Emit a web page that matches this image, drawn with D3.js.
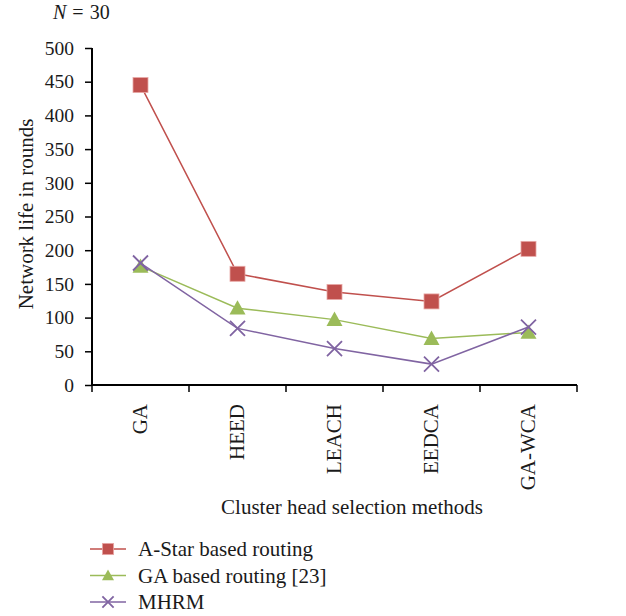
<!DOCTYPE html>
<html>
<head>
<meta charset="utf-8">
<script src="https://cdn.jsdelivr.net/npm/d3@7/dist/d3.min.js"></script>
<style>
  html, body { margin: 0; padding: 0; background: #fff; }
  svg { display: block; font-family: "Liberation Serif", "DejaVu Serif", serif; }
</style>
</head>
<body>
<svg id="chart" width="626" height="616"></svg>
<script>
const categories = ["GA", "HEED", "LEACH", "EEDCA", "GA-WCA"];
const aStar = [445, 165, 138, 124, 202];
const gaRouting = [176, 114, 97, 69, 78];
const mhrm = [181, 84, 54, 31, 86];
const yTicks = [0, 50, 100, 150, 200, 250, 300, 350, 400, 450, 500];

const series = [
  { name: "A-Star based routing", values: aStar, color: "#C0504D", symbol: "square" },
  { name: "GA based routing [23]", values: gaRouting, color: "#9BBB59", symbol: "triangle" },
  { name: "MHRM", values: mhrm, color: "#8064A2", symbol: "cross" }
];

const svg = d3.select("#chart");
const plotLeft = 92, plotRight = 577, plotTop = 48, plotBottom = 385;
const textColor = "#1a1a1a";

const x = d3.scaleBand().domain(categories).range([plotLeft, plotRight]);
const y = d3.scaleLinear().domain([0, 500]).range([plotBottom, plotTop]);

// y axis
const yAxis = svg.append("g").attr("transform", `translate(${plotLeft},0)`)
  .call(d3.axisLeft(y).tickValues(yTicks).tickSize(7).tickPadding(11));
yAxis.select(".domain").attr("stroke", "#000").attr("stroke-width", 2).attr("d", `M0,${plotTop}V${plotBottom + 1}`);
yAxis.selectAll(".tick line").attr("stroke", "#000").attr("stroke-width", 1.5);
yAxis.selectAll(".tick text").attr("font-size", 19.5).attr("fill", textColor)
  .attr("font-family", "Liberation Serif, serif");

// x axis with ticks at band boundaries
const xAxis = svg.append("g").attr("transform", `translate(0,${plotBottom})`);
xAxis.append("line").attr("x1", plotLeft - 1).attr("x2", plotRight).attr("y1", 0).attr("y2", 0)
  .attr("stroke", "#000").attr("stroke-width", 2);
const boundaries = categories.map(c => x(c)).concat([x(categories[categories.length - 1]) + x.bandwidth()]);
xAxis.selectAll("line.tk").data(boundaries).enter().append("line").attr("class", "tk")
  .attr("x1", d => d).attr("x2", d => d).attr("y1", 0).attr("y2", 7)
  .attr("stroke", "#000").attr("stroke-width", 1.5);
xAxis.selectAll("text.cat").data(categories).enter().append("text").attr("class", "cat")
  .attr("transform", d => `translate(${x(d) + x.bandwidth() / 2 + 6},${19}) rotate(-90)`)
  .attr("text-anchor", "end").attr("font-size", 21).attr("fill", textColor)
  .text(d => d);

// axis titles
svg.append("text")
  .attr("transform", `translate(33,214) rotate(-90)`)
  .attr("text-anchor", "middle").attr("font-size", 21).attr("fill", textColor)
  .text("Network life in rounds");
svg.append("text").attr("x", 352).attr("y", 514).attr("text-anchor", "middle")
  .attr("font-size", 21).attr("fill", textColor).text("Cluster head selection methods");

// N label
const nLabel = svg.append("text").attr("x", 53).attr("y", 19).attr("font-size", 20).attr("fill", textColor);
nLabel.append("tspan").attr("font-style", "italic").text("N");
nLabel.append("tspan").attr("dx", 6).text("=");
nLabel.append("tspan").attr("dx", 6).text("30");

const cx = d => x(d) + x.bandwidth() / 2;

function drawMarker(g, s, px, py, scale) {
  const k = scale || 1;
  if (s.symbol === "square") {
    const h = 7.5 * k;
    g.append("rect").attr("x", px - h).attr("y", py - h).attr("width", 2 * h).attr("height", 2 * h)
      .attr("fill", s.color).attr("stroke", "#E8A8A6").attr("stroke-width", 0.8);
  } else if (s.symbol === "triangle") {
    const h = 8 * k;
    g.append("path").attr("d", `M${px},${py - h}L${px + h},${py + h * 0.8}L${px - h},${py + h * 0.8}Z`)
      .attr("fill", s.color);
  } else {
    const h = 7.5 * k;
    g.append("path").attr("d", `M${px - h},${py - h}L${px + h},${py + h}M${px + h},${py - h}L${px - h},${py + h}`)
      .attr("stroke", s.color).attr("stroke-width", 1.8).attr("fill", "none");
  }
}

const line = d3.line().x((d, i) => cx(categories[i])).y(d => y(d));

series.forEach(s => {
  const g = svg.append("g");
  g.append("path").datum(s.values).attr("d", line).attr("fill", "none")
    .attr("stroke", s.color).attr("stroke-width", 1.5);
  s.values.forEach((v, i) => drawMarker(g, s, cx(categories[i]), y(v)));
});

// legend
const legend = svg.append("g");
series.forEach((s, i) => {
  const ly = 549 + i * 26.5;
  const g = legend.append("g");
  g.append("line").attr("x1", 90).attr("x2", 126).attr("y1", ly).attr("y2", ly)
    .attr("stroke", s.color).attr("stroke-width", 1.5);
  drawMarker(g, s, 108, ly, 0.75);
  g.append("text").attr("x", 138).attr("y", ly + 7).attr("font-size", 21).attr("fill", textColor).text(s.name);
});
</script>
</body>
</html>
